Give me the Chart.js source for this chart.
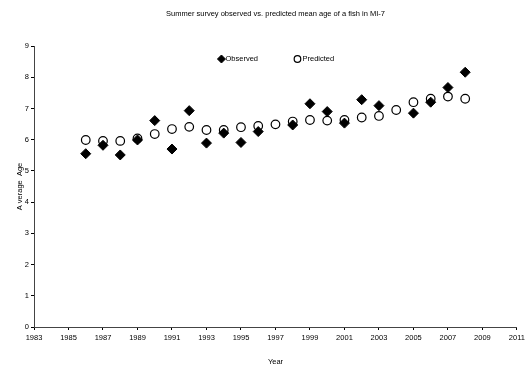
<!DOCTYPE html>
<html>
<head>
<meta charset="utf-8">
<script src="https://cdn.jsdelivr.net/npm/chart.js@4/dist/chart.umd.min.js"></script>
<style>
html,body{margin:0;padding:0;background:#fff;}
#wrap{width:528px;height:366px;}
</style>
</head>
<body>
<div id="wrap"><canvas id="c" width="528" height="366"></canvas></div>
<script>
const chartTitle = "Summer survey observed vs. predicted mean age of a fish in MI-7";
const years = [1986,1987,1988,1989,1990,1991,1992,1993,1994,1995,1996,1997,1998,1999,2000,2001,2002,2003,2004,2005,2006,2007,2008];
const observed = [5.55,5.82,5.51,5.99,6.61,5.70,6.93,5.89,6.21,5.91,6.26,null,6.47,7.15,6.90,6.53,7.28,7.09,null,6.85,7.20,7.67,8.16];
const predicted = [5.99,5.96,5.96,6.04,6.18,6.34,6.41,6.31,6.31,6.40,6.44,6.49,6.58,6.63,6.61,6.63,6.71,6.76,6.95,7.20,7.31,7.38,7.31];
const xMin = 1983, xMax = 2011, xStep = 2;
const yMin = 0, yMax = 9, yStep = 1;

const FONT = "'Liberation Sans', Arial, sans-serif";

function toPts(vals){
  const out = [];
  years.forEach((y,i)=>{ if(vals[i]!==null) out.push({x:y,y:vals[i]}); });
  return out;
}

const decorPlugin = {
  id:'decor',
  afterDraw(chart){
    const ctx = chart.ctx;
    const ca = chart.chartArea;
    const cx = (ca.left+ca.right)/2;
    ctx.save();
    // title centered over plot area
    ctx.font = "7.5px " + FONT;
    ctx.fillStyle = '#000';
    ctx.textAlign = 'center';
    ctx.textBaseline = 'middle';
    ctx.fillText(chartTitle, cx, 14);
    // legend
    const ly = ca.top + 13;
    ctx.textAlign = 'left';
    ctx.fillStyle = '#000'; ctx.strokeStyle = '#000'; ctx.lineWidth = 1;
    Chart.helpers.drawPoint(ctx, {pointStyle:'rectRot', radius:4, borderWidth:1}, cx-54, ly);
    ctx.fillStyle = '#000';
    ctx.fillText(chart.data.datasets[0].label, cx-50, ly);
    ctx.fillStyle = 'rgba(255,255,255,0)'; ctx.strokeStyle = '#000'; ctx.lineWidth = 1.2;
    Chart.helpers.drawPoint(ctx, {pointStyle:'circle', radius:3.3, borderWidth:1.2}, cx+22, ly);
    ctx.fillStyle = '#000';
    ctx.fillText(chart.data.datasets[1].label, cx+27, ly);
    ctx.restore();
  }
};

const cfg = {
  type:'scatter',
  data:{
    datasets:[
      {label:'Observed', data:toPts(observed), pointStyle:'rectRot', pointRadius:5, pointHoverRadius:5,
       backgroundColor:'#000', borderColor:'#000', pointBorderWidth:1},
      {label:'Predicted', data:toPts(predicted), pointStyle:'circle', pointRadius:4.3, pointHoverRadius:4.3,
       backgroundColor:'rgba(255,255,255,0)', borderColor:'#000', pointBorderWidth:1.2}
    ]
  },
  options:{
    responsive:false,
    animation:false,
    layout:{padding:{left:15,right:9,top:46,bottom:0}},
    plugins:{
      legend:{display:false},
      tooltip:{enabled:false},
      title:{display:false}
    },
    scales:{
      x:{
        type:'linear', min:xMin, max:xMax,
        ticks:{stepSize:xStep, color:'#000', font:{family:FONT,size:7.5}, padding:3, maxRotation:0,
          callback:(v)=>String(v)},
        grid:{drawOnChartArea:false, drawTicks:true, tickLength:3, color:'#000'},
        border:{display:true, color:'#444', width:1},
        title:{display:true, text:'Year', color:'#000', font:{family:FONT,size:7.5}, padding:{top:5,bottom:0}},
        afterFit(s){ s.height = 39; }
      },
      y:{
        type:'linear', min:yMin, max:yMax,
        ticks:{stepSize:yStep, color:'#000', font:{family:FONT,size:7.5}, padding:2},
        grid:{drawOnChartArea:false, drawTicks:true, tickLength:3, color:'#000'},
        border:{display:true, color:'#444', width:1},
        title:{display:true, text:'A verage  Age', color:'#000', font:{family:FONT,size:7.5}, padding:{top:0,bottom:2}},
        afterFit(s){ s.width = 19; }
      }
    }
  },
  plugins:[decorPlugin]
};

new Chart(document.getElementById('c'), cfg);
</script>
</body>
</html>
